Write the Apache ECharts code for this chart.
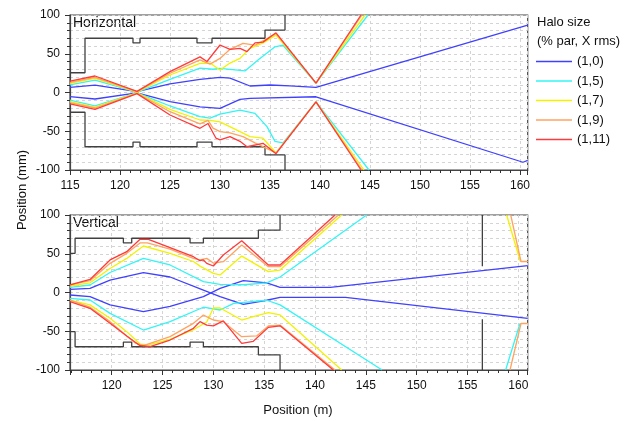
<!DOCTYPE html>
<html>
<head>
<meta charset="utf-8">
<script src="https://cdn.jsdelivr.net/npm/echarts@6/dist/echarts.min.js"></script>
<style>
html, body { margin: 0; padding: 0; background: #fff; }
#chart { width: 640px; height: 421px; }
</style>
</head>
<body>
<div id="chart"></div>
<script>
var haloNames = ['(1,0)', '(1,5)', '(1,7)', '(1,9)', '(1,11)'];
var yTicks = [-100, -50, 0, 50, 100];

// Horizontal plane: aperture (m, mm)
var hApUp = [[115,25.5],[116.5,25.5],[116.5,70],[121.3,70],[121.3,64],[122,64],[122,70],[127.7,70],[127.7,64],[129.2,64],[129.2,70],[134.5,70],[134.5,80.6],[136.5,80.6],[136.5,100]];
var hApDown = [[115,-25.5],[116.5,-25.5],[116.5,-70],[121.3,-70],[121.3,-64],[122,-64],[122,-70],[127.7,-70],[127.7,-64],[129.2,-64],[129.2,-70],[134.5,-70],[134.5,-80.6],[136.5,-80.6],[136.5,-100]];

// Horizontal plane: halo envelopes
var hBlueUp = [[115,6.7],[117.5,9.5],[121.7,1],[125,11],[128,17],[130,19.6],[131,18.5],[133,8.4],[135,9.7],[137,8.5],[139.6,6.5],[160.77,87]];
var hBlueDown = [[115,-5.4],[117.5,-8.4],[121.7,-0.5],[125,-11.8],[128,-18.5],[130,-20.4],[132,-8.8],[133,-7.5],[139.6,-5.5],[160.3,-90],[160.77,-87.5]];
var hCyanUp = [[115,9.7],[117.5,16],[121.7,0.5],[125,17],[128,31.5],[129.3,30],[130,31],[132.5,27.8],[133.8,42],[135.5,59],[136.3,61],[139.6,12],[144.8,100]];
var hCyanDown = [[115,-9.7],[117.5,-17.4],[121.7,-0.5],[125,-17.4],[128,-31],[129,-33],[130,-28],[132,-22.6],[133.5,-27],[134.7,-44],[135.5,-63],[136.3,-65],[139.6,-12],[144.9,-100]];
var hYellowUp = [[115,11.8],[117.5,18.3],[121.7,0.5],[125,22.6],[128,37.7],[129,38],[130,29],[131,38],[132,44],[133,57],[134.3,64],[135.6,74],[139.6,12],[144.5,100]];
var hYellowDown = [[115,-11.8],[117.5,-19],[121.7,-0.5],[125,-21.7],[128,-35.5],[129,-36],[130,-38],[132,-50.5],[133,-57],[134.3,-59],[135.6,-78],[139.6,-12],[144.4,-100]];
var hOrangeUp = [[115,13],[117.5,19.5],[121.7,1],[125,24.8],[128,42],[129,36.6],[130,44],[131,55.7],[132.3,63.4],[133.5,61],[135.6,76],[139.6,12],[144.2,100]];
var hOrangeDown = [[115,-13],[117.5,-20],[121.7,-1],[125,-24.8],[128,-40.6],[128.8,-36],[129.3,-46],[130,-50.5],[131,-52],[132.3,-57],[133.5,-65],[135.6,-78],[139.6,-12],[144.2,-100]];
var hRedUp = [[115,14.8],[117.5,21.3],[121.7,1.5],[125,26.9],[128,46],[128.7,40],[130,61.3],[131,55.7],[132,57],[132.7,52.7],[133.5,64],[134.3,65],[135.6,77],[139.6,12],[144.1,100]];
var hRedDown = [[115,-14.8],[117.5,-21.7],[121.7,-1.5],[125,-29],[128,-46.2],[128.8,-40],[129.6,-59],[130,-61],[131,-57],[132,-63],[132.7,-70],[134.3,-65.6],[135.6,-79],[139.6,-12],[144.1,-100]];

// Vertical plane: aperture
var vApUp = [[115.9,50.5],[116.4,50.5],[116.4,70],[121.15,70],[121.15,64],[121.97,64],[121.97,70],[127.71,70],[127.71,64],[129.02,64],[129.02,70],[134.43,70],[134.43,80.6],[136.56,80.6],[136.56,100]];
var vApDown = [[115.9,-50.5],[116.4,-50.5],[116.4,-70],[121.15,-70],[121.15,-64],[121.97,-64],[121.97,-70],[127.71,-70],[127.71,-64],[129.02,-64],[129.02,-70],[134.43,-70],[134.43,-80.6],[136.56,-80.6],[136.56,-100]];
var vApEndUp = [[156.46,100],[156.46,34]];
var vApEndDown = [[156.46,-34.6],[156.46,-100]];

// Vertical plane: halo envelopes
var vBlueA = [[115.9,4],[117.87,5.4],[119.84,16],[123.12,25.6],[125.74,20],[129.02,3],[130.66,-5.4],[132.95,-15.3],[135.25,-10],[136.56,-6.2],[143,-6.2],[160.92,-33.3]];
var vBlueB = [[115.9,-3.2],[117.87,-5.4],[119.84,-16],[123.12,-24.7],[125.74,-18],[129.02,-5.4],[130.66,5.4],[132.95,15.3],[135.25,12.5],[136.56,6.7],[141.5,6.7],[160.92,34.6]];
var vCyanUp = [[115.9,6.7],[117.87,9.7],[119.84,25.8],[123.12,44],[125.74,35.5],[129.02,14],[130.66,10.5],[133,10],[135.25,12.5],[136.56,20],[145.08,100]];
var vCyanDown = [[115.9,-7.5],[117.87,-9.7],[119.84,-26.9],[123.12,-48.4],[125.74,-37.6],[129.02,-19],[130.66,-22.6],[132,-14],[135.25,-10],[136.56,-16],[146.6,-100]];
var vCyanEnd = [[158.75,-100],[160.16,-40]];
var vYellowUp = [[115.9,8.4],[117.87,12.5],[119.84,31],[121.48,44],[123.12,60],[125.74,50.5],[128.04,40],[128.69,34],[130,24.7],[130.66,22.6],[132.79,47],[135.41,26.9],[136.56,29],[142.62,100]];
var vYellowDown = [[115.9,-9.7],[117.87,-16],[119.84,-33.3],[121.48,-50.5],[122.79,-66.5],[123.61,-67.5],[125.74,-60.4],[128.04,-48],[129.35,-38],[130,-20],[130.66,-20],[132.79,-35.5],[133.93,-31],[135.41,-26],[136.56,-29],[142.62,-100]];
var vYellowEnd = [[158.85,100],[160.2,40]];
var vOrangeUp = [[115.9,9.7],[117.87,15.3],[119.84,37.6],[121.48,50.5],[122.79,64],[123.5,64],[125.74,56],[128.04,44],[128.69,42],[129.35,44],[130,38],[130.98,39.8],[132.79,61.3],[135.41,33.3],[136.56,33.3],[142.3,100]];
var vOrangeDown = [[115.9,-9.7],[117.87,-19],[119.84,-37.6],[121.48,-56],[122.3,-65],[123.12,-68.6],[125.74,-57],[128.04,-39.8],[129.02,-29],[129.67,-33.3],[130,-35.5],[130.98,-37.6],[132.79,-57],[134.26,-56],[135.41,-43.2],[136.56,-42],[141.97,-100]];
var vOrangeEndUp = [[159.25,100],[160.26,40],[160.92,40]];
var vOrangeEndDown = [[159.18,-100],[160.26,-40],[160.92,-40]];
var vRedUp = [[115.9,9.7],[117.87,16.8],[119.84,42],[121.48,52.7],[122.79,68.6],[123.61,68.6],[125.74,58],[128.04,46.2],[128.69,41],[129.02,42],[129.35,37.6],[130,34.2],[130.98,48.4],[132.79,66.9],[135.41,35.5],[136.56,35.5],[141.97,100]];
var vRedDown = [[115.9,-11.8],[117.87,-20.4],[119.84,-39.8],[121.48,-56],[122.79,-68.6],[123.77,-69.7],[125.74,-61.3],[128.04,-46.2],[128.69,-37.6],[129.35,-42],[130,-43],[130.98,-36.6],[132.79,-65.6],[133.93,-63],[135.41,-45],[136.56,-43],[141.8,-100]];

var colors = ['#4040ff', '#33f5f5', '#f2f200', '#ffa35f', '#ff3a3a'];
var font = 'Liberation Sans, Arial, sans-serif';

function line(name, data, color, idx, width) {
    return {
        name: name, type: 'line', xAxisIndex: idx, yAxisIndex: idx,
        data: data, symbol: 'none', showSymbol: false, silent: true,
        lineStyle: { color: color, width: width || 1.3 },
        itemStyle: { color: color },
        emphasis: { disabled: true },
        animation: false
    };
}

function xAxis(idx, min, max, showMin) {
    return {
        type: 'value', gridIndex: idx, min: min, max: max, splitNumber: 9,
        axisLine: { show: true, onZero: false, lineStyle: { color: '#444', width: 1.2 } },
        axisTick: { show: true, length: 5, lineStyle: { color: '#333' } },
        minorTick: { show: true, splitNumber: 5, length: 3, lineStyle: { color: '#333' } },
        splitLine: { show: true, lineStyle: { color: '#d4d4d4', type: [3, 3] } },
        axisLabel: { showMinLabel: showMin, showMaxLabel: false, color: '#111', fontSize: 12, fontFamily: font, margin: 10 }
    };
}

function yAxis(idx) {
    return {
        type: 'value', gridIndex: idx, min: yTicks[0], max: yTicks[yTicks.length - 1], interval: 50,
        axisLine: { show: true, onZero: false, lineStyle: { color: '#444', width: 1.2 } },
        axisTick: { show: true, length: 5, lineStyle: { color: '#333' } },
        minorTick: { show: true, splitNumber: 5, length: 3, lineStyle: { color: '#333' } },
        splitLine: { show: true, lineStyle: { color: '#d4d4d4', type: [3, 3] } },
        minorSplitLine: { show: true, lineStyle: { color: '#d4d4d4', type: [3, 3] } },
        axisLabel: { color: '#111', fontSize: 12, fontFamily: font, margin: 10 }
    };
}

var black = '#404040';
var series = [
    line('', hApUp, black, 0), line('', hApDown, black, 0),
    line('', vApUp, black, 1), line('', vApDown, black, 1),
    line('', vApEndUp, black, 1), line('', vApEndDown, black, 1),

    line(haloNames[0], hBlueUp, colors[0], 0), line(haloNames[0], hBlueDown, colors[0], 0),
    line(haloNames[0], vBlueA, colors[0], 1), line(haloNames[0], vBlueB, colors[0], 1),

    line(haloNames[1], hCyanUp, colors[1], 0), line(haloNames[1], hCyanDown, colors[1], 0),
    line(haloNames[1], vCyanUp, colors[1], 1), line(haloNames[1], vCyanDown, colors[1], 1),
    line(haloNames[1], vCyanEnd, colors[1], 1),

    line(haloNames[2], hYellowUp, colors[2], 0), line(haloNames[2], hYellowDown, colors[2], 0),
    line(haloNames[2], vYellowUp, colors[2], 1), line(haloNames[2], vYellowDown, colors[2], 1),
    line(haloNames[2], vYellowEnd, colors[2], 1),

    line(haloNames[3], hOrangeUp, colors[3], 0), line(haloNames[3], hOrangeDown, colors[3], 0),
    line(haloNames[3], vOrangeUp, colors[3], 1), line(haloNames[3], vOrangeDown, colors[3], 1),
    line(haloNames[3], vOrangeEndUp, colors[3], 1), line(haloNames[3], vOrangeEndDown, colors[3], 1),

    line(haloNames[4], hRedUp, colors[4], 0), line(haloNames[4], hRedDown, colors[4], 0),
    line(haloNames[4], vRedUp, colors[4], 1), line(haloNames[4], vRedDown, colors[4], 1)
];

var option = {
    backgroundColor: '#fff',
    animation: false,
    grid: [
        { left: 70, top: 15, width: 457.7, height: 155, show: true, borderColor: '#444', borderWidth: 1.2, outerBoundsMode: 'none' },
        { left: 70, top: 215, width: 457.7, height: 155, show: true, borderColor: '#444', borderWidth: 1.2, outerBoundsMode: 'none' }
    ],
    xAxis: [xAxis(0, 115, 160.77, true), xAxis(1, 115.9, 160.92, false)],
    yAxis: [yAxis(0), yAxis(1)],
    legend: {
        data: haloNames, orient: 'vertical', left: 536, top: 55,
        icon: 'rect', itemWidth: 36, itemHeight: 1.5, itemGap: 6.5, padding: 0,
        selectedMode: false,
        textStyle: { fontSize: 13, fontFamily: font, color: '#111' }
    },
    graphic: [
        { type: 'text', left: 73, top: 16, style: { text: 'Horizontal', fontSize: 14, fontFamily: font, fill: '#111' } },
        { type: 'text', left: 73, top: 216, style: { text: 'Vertical', fontSize: 14, fontFamily: font, fill: '#111' } },
        { type: 'text', left: 537, top: 16, style: { text: 'Halo size', fontSize: 13, fontFamily: font, fill: '#111' } },
        { type: 'text', left: 537, top: 35, style: { text: '(% par, X rms)', fontSize: 13, fontFamily: font, fill: '#111' } },
        { type: 'text', x: 22, y: 190, rotation: Math.PI / 2, style: { text: 'Position (mm)', fontSize: 13, fontFamily: font, fill: '#111', align: 'center', verticalAlign: 'middle' } },
        { type: 'text', x: 298, y: 410, style: { text: 'Position (m)', fontSize: 13, fontFamily: font, fill: '#111', align: 'center', verticalAlign: 'middle' } }
    ],
    series: series
};

var myChart = echarts.init(document.getElementById('chart'), null, { renderer: 'canvas' });
myChart.setOption(option);
</script>
</body>
</html>
